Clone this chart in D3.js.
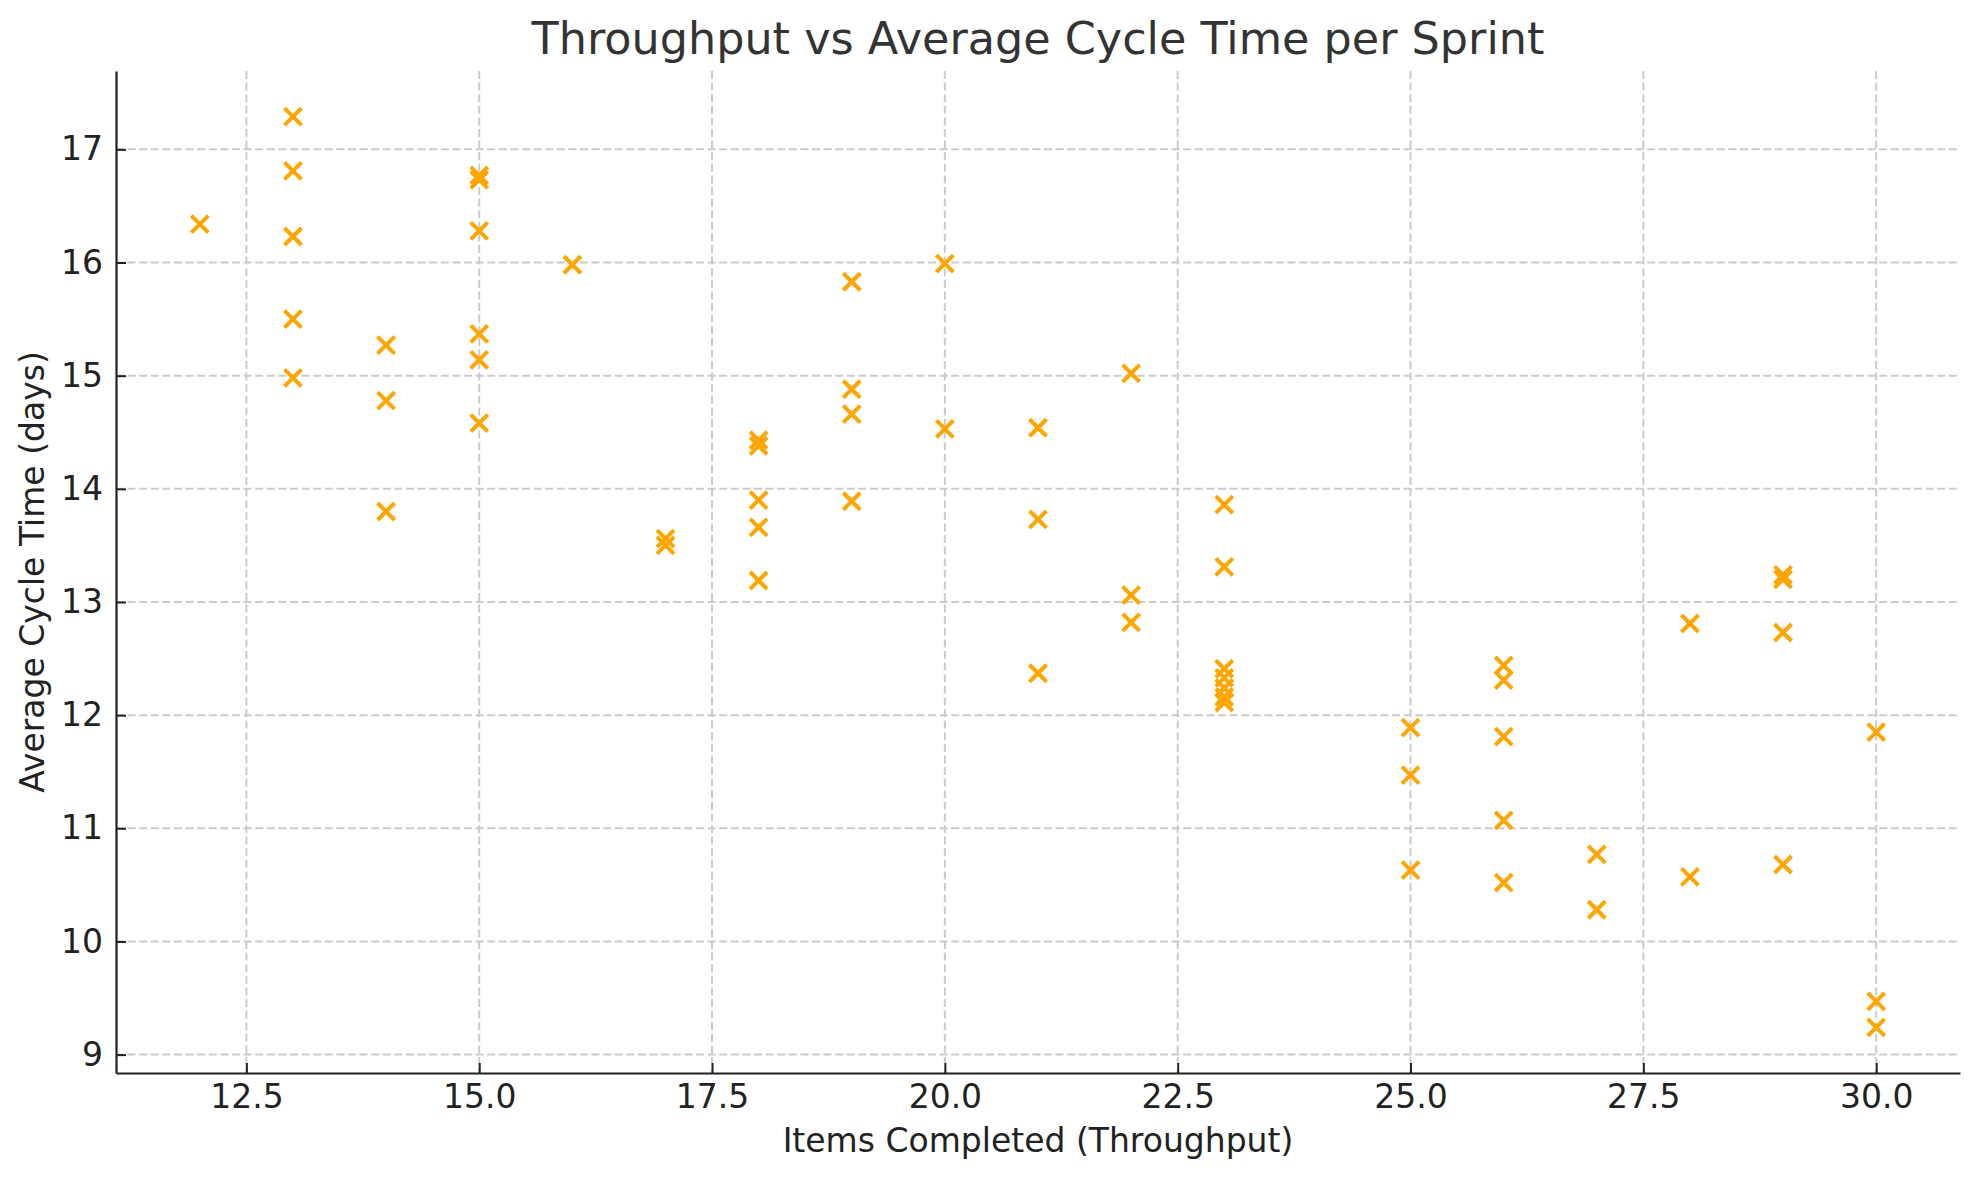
<!DOCTYPE html>
<html>
<head>
<meta charset="utf-8">
<script src="https://cdn.jsdelivr.net/npm/d3@7"></script>
<style>
  body { margin: 0; background: #fff; }
  text { font-family: "DejaVu Sans", sans-serif; }
</style>
</head>
<body>
<div id="chart"></div>
<script>
// one entry per sprint: items completed and average cycle time (days)
var throughput = [
  12,
  13, 13, 13, 13, 13,
  14, 14, 14,
  15, 15, 15, 15, 15, 15,
  16,
  17, 17,
  18, 18, 18, 18, 18,
  19, 19, 19, 19,
  20, 20,
  21, 21, 21,
  22, 22, 22,
  23, 23, 23, 23, 23, 23, 23,
  25, 25, 25,
  26, 26, 26, 26, 26,
  27, 27,
  28, 28,
  29, 29, 29, 29,
  30, 30, 30
];
var cycleTime = [
  16.34,
  17.29, 16.81, 16.23, 15.50, 14.98,
  15.27, 14.78, 13.80,
  16.77, 16.73, 16.28, 15.37, 15.14, 14.58,
  15.98,
  13.56, 13.50,
  14.43, 14.38, 13.90, 13.66, 13.19,
  15.83, 14.88, 14.66, 13.89,
  15.99, 14.53,
  14.54, 13.73, 12.37,
  15.02, 13.06, 12.82,
  13.86, 13.31, 12.41, 12.33, 12.24, 12.16, 12.11,
  11.89, 11.47, 10.63,
  12.44, 12.31, 11.81, 11.07, 10.52,
  10.77, 10.28,
  12.81, 10.57,
  13.24, 13.20, 12.73, 10.68,
  11.85, 9.47, 9.24
];
var xTicks = [12.5, 15.0, 17.5, 20.0, 22.5, 25.0, 27.5, 30.0];
var yTicks = [9, 10, 11, 12, 13, 14, 15, 16, 17];

var title = "Throughput vs Average Cycle Time per Sprint";
var xLabel = "Items Completed (Throughput)";
var yLabel = "Average Cycle Time (days)";

var width = 1979, height = 1180;
var margin = {top: 71, right: 19, bottom: 107, left: 116};
var plotW = width - margin.left - margin.right;
var plotH = height - margin.top - margin.bottom;

var points = throughput.map(function(d, i) { return {x: d, y: cycleTime[i]}; });

// matplotlib style 5% padding around the data range
function padded(ext) {
  var p = (ext[1] - ext[0]) * 0.05;
  return [ext[0] - p, ext[1] + p];
}

var x = d3.scaleLinear()
  .domain(padded(d3.extent(throughput)))
  .range([0, plotW]);
var y = d3.scaleLinear()
  .domain(padded(d3.extent(cycleTime)))
  .range([plotH, 0]);

var svg = d3.select("#chart").append("svg")
  .attr("width", width)
  .attr("height", height);

svg.append("rect")
  .attr("width", width)
  .attr("height", height)
  .attr("fill", "#fff");

var g = svg.append("g")
  .attr("transform", "translate(" + margin.left + "," + margin.top + ")");

// grid
g.append("g")
  .selectAll("line")
  .data(xTicks)
  .enter()
  .append("line")
    .attr("x1", function(d) { return x(d); })
    .attr("x2", function(d) { return x(d); })
    .attr("y1", 0)
    .attr("y2", plotH)
    .attr("stroke", "#cbcbcb")
    .attr("stroke-width", 2)
    .attr("stroke-dasharray", "8,3.6");

g.append("g")
  .selectAll("line")
  .data(yTicks)
  .enter()
  .append("line")
    .attr("x1", 0)
    .attr("x2", plotW)
    .attr("y1", function(d) { return y(d); })
    .attr("y2", function(d) { return y(d); })
    .attr("stroke", "#cbcbcb")
    .attr("stroke-width", 2)
    .attr("stroke-dasharray", "8,3.6");

// axes, ticks pointing inward
var xAxis = d3.axisBottom(x)
  .tickValues(xTicks)
  .tickFormat(d3.format(".1f"))
  .tickSizeInner(-10)
  .tickSizeOuter(0)
  .tickPadding(12);

var yAxis = d3.axisLeft(y)
  .tickValues(yTicks)
  .tickFormat(d3.format("d"))
  .tickSizeInner(-10)
  .tickSizeOuter(0)
  .tickPadding(13);

var gx = g.append("g")
  .attr("transform", "translate(0," + plotH + ")")
  .call(xAxis);
gx.select(".domain").attr("stroke", "#222").attr("stroke-width", 2.2);
gx.selectAll(".tick line").attr("stroke", "#222").attr("stroke-width", 2);
gx.selectAll(".tick text")
  .attr("fill", "#222")
  .style("font-size", "33px");

var gy = g.append("g").call(yAxis);
gy.select(".domain").attr("stroke", "#222").attr("stroke-width", 2.2);
gy.selectAll(".tick line").attr("stroke", "#222").attr("stroke-width", 2);
gy.selectAll(".tick text")
  .attr("fill", "#222")
  .style("font-size", "33px");

// markers
var s = 8.5;
g.append("g")
  .selectAll("path")
  .data(points)
  .enter()
  .append("path")
    .attr("transform", function(d) { return "translate(" + x(d.x) + "," + y(d.y) + ")"; })
    .attr("d", "M" + (-s) + "," + (-s) + "L" + s + "," + s + "M" + (-s) + "," + s + "L" + s + "," + (-s))
    .attr("stroke", "#FFA500")
    .attr("stroke-width", 4)
    .attr("fill", "none");

// labels
svg.append("text")
  .attr("x", margin.left + plotW / 2)
  .attr("y", 54)
  .attr("text-anchor", "middle")
  .attr("fill", "#333")
  .style("font-size", "44.5px")
  .text(title);

svg.append("text")
  .attr("x", margin.left + plotW / 2)
  .attr("y", 1152)
  .attr("text-anchor", "middle")
  .attr("fill", "#222")
  .style("font-size", "33px")
  .text(xLabel);

svg.append("text")
  .attr("transform", "translate(44," + (margin.top + plotH / 2) + ") rotate(-90)")
  .attr("text-anchor", "middle")
  .attr("fill", "#222")
  .style("font-size", "33px")
  .text(yLabel);
</script>
</body>
</html>
